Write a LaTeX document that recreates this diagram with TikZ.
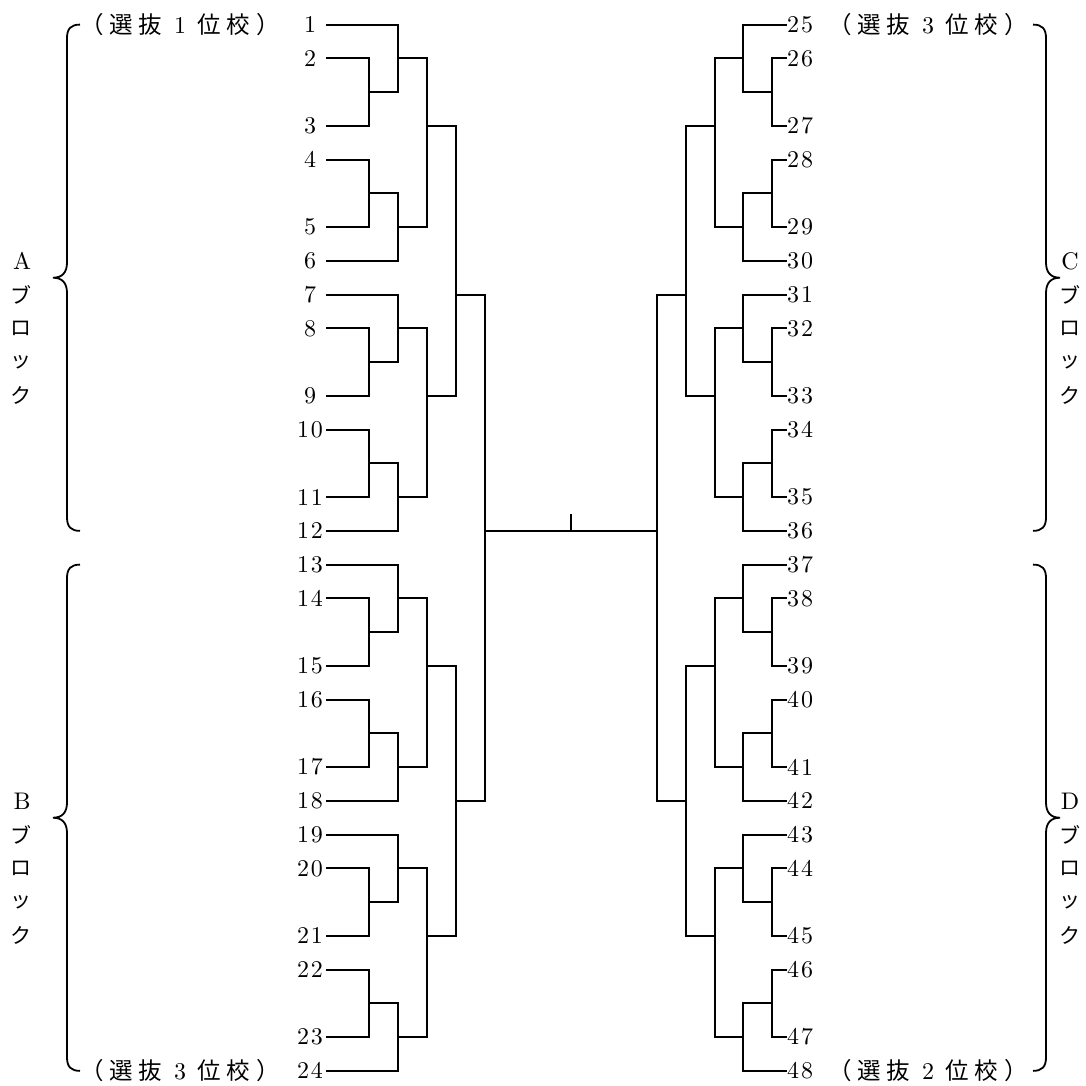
\documentclass[tikz,border=0pt]{standalone}
\usepackage{fontspec}
\setmainfont{lmroman10-regular}[Extension=.otf]
\newfontfamily\jp{Noto Sans CJK JP}
\usetikzlibrary{calc}
\newcommand\dd[2]{#1\kern2pt#2}
\newcommand\cb[1]{\makebox[29.3pt]{#1}}
\tikzset{
  ln/.style={line width=1.8pt, line join=miter},
  lnum/.style={inner sep=0pt, minimum width=32pt, font=\fontsize{24}{24}\selectfont},
  rnum/.style={inner sep=0pt, minimum width=26pt, font=\fontsize{24}{24}\selectfont},
  blk/.style={inner sep=0pt, font=\fontsize{24}{24}\selectfont},
  kana/.style={inner sep=0pt, font=\jp\fontsize{21}{21}\selectfont},
  sel/.style={inner sep=0pt, font=\jp\fontsize{23.5}{23.5}\selectfont}
}
\begin{document}
\begin{tikzpicture}[x=1pt,y=-1pt]
\useasboundingbox (0,0) rectangle (1086,1085);
\begin{scope}[y=-33.75pt,yshift=-24.6pt]
% ---------- team numbers ----------
\foreach \n/\u/\lab in {1/0/1,2/1/2,3/3/3,4/4/4,5/6/5,6/7/6,7/8/7,8/9/8,9/11/9,
  10/12/\dd10,11/14/\dd11,12/15/\dd12,13/16/\dd13,14/17/\dd14,15/19/\dd15,16/20/\dd16,
  17/22/\dd17,18/23/\dd18,19/24/\dd19,20/25/\dd20,21/27/\dd21,22/28/\dd22,23/30/\dd23,24/31/\dd24}
  \node[lnum] (t\n) at (310,\u) {\lab};
\foreach \n/\u/\lab in {25/0/\dd25,26/1/\dd26,27/3/\dd27,28/4/\dd28,29/6/\dd29,30/7/\dd30,
  31/8/\dd31,32/9/\dd32,33/11/\dd33,34/12/\dd34,35/14/\dd35,36/15/\dd36,
  37/16/\dd37,38/17/\dd38,39/19/\dd39,40/20/\dd40,41/22/\dd41,42/23/\dd42,
  43/24/\dd43,44/25/\dd44,45/27/\dd45,46/28/\dd46,47/30/\dd47,48/31/\dd48}
  \node[rnum] (t\n) at (800,\u) {\lab};
% ---------- A block ----------
\coordinate (a1) at (369,2);  \draw[ln] (t2.east) -| (a1) |- (t3.east);
\coordinate (a2) at (398,1);  \draw[ln] (t1.east) -| (a2) |- (a1);
\coordinate (a3) at (369,5);  \draw[ln] (t4.east) -| (a3) |- (t5.east);
\coordinate (a4) at (398,6);  \draw[ln] (a3) -| (a4) |- (t6.east);
\coordinate (a5) at (427,3);  \draw[ln] (a2) -| (a5) |- (a4);
\coordinate (a6) at (369,10); \draw[ln] (t8.east) -| (a6) |- (t9.east);
\coordinate (a7) at (398,9);  \draw[ln] (t7.east) -| (a7) |- (a6);
\coordinate (a8) at (369,13); \draw[ln] (t10.east) -| (a8) |- (t11.east);
\coordinate (a9) at (398,14); \draw[ln] (a8) -| (a9) |- (t12.east);
\coordinate (a10) at (427,11); \draw[ln] (a7) -| (a10) |- (a9);
\coordinate (a11) at (456,8); \draw[ln] (a5) -| (a11) |- (a10);
% ---------- B block ----------
\coordinate (b1) at (369,18); \draw[ln] (t14.east) -| (b1) |- (t15.east);
\coordinate (b2) at (398,17); \draw[ln] (t13.east) -| (b2) |- (b1);
\coordinate (b3) at (369,21); \draw[ln] (t16.east) -| (b3) |- (t17.east);
\coordinate (b4) at (398,22); \draw[ln] (b3) -| (b4) |- (t18.east);
\coordinate (b5) at (427,19); \draw[ln] (b2) -| (b5) |- (b4);
\coordinate (b6) at (369,26); \draw[ln] (t20.east) -| (b6) |- (t21.east);
\coordinate (b7) at (398,25); \draw[ln] (t19.east) -| (b7) |- (b6);
\coordinate (b8) at (369,29); \draw[ln] (t22.east) -| (b8) |- (t23.east);
\coordinate (b9) at (398,30); \draw[ln] (b8) -| (b9) |- (t24.east);
\coordinate (b10) at (427,27); \draw[ln] (b7) -| (b10) |- (b9);
\coordinate (b11) at (456,23); \draw[ln] (b5) -| (b11) |- (b10);
\coordinate (LL) at (485,15); \draw[ln] (a11) -| (LL) |- (b11);
% ---------- C block ----------
\coordinate (c1) at (772,2);  \draw[ln] (t26.west) -| (c1) |- (t27.west);
\coordinate (c2) at (743,1);  \draw[ln] (t25.west) -| (c2) |- (c1);
\coordinate (c3) at (772,5);  \draw[ln] (t28.west) -| (c3) |- (t29.west);
\coordinate (c4) at (743,6);  \draw[ln] (c3) -| (c4) |- (t30.west);
\coordinate (c5) at (715,3);  \draw[ln] (c2) -| (c5) |- (c4);
\coordinate (c6) at (772,10); \draw[ln] (t32.west) -| (c6) |- (t33.west);
\coordinate (c7) at (743,9);  \draw[ln] (t31.west) -| (c7) |- (c6);
\coordinate (c8) at (772,13); \draw[ln] (t34.west) -| (c8) |- (t35.west);
\coordinate (c9) at (743,14); \draw[ln] (c8) -| (c9) |- (t36.west);
\coordinate (c10) at (715,11); \draw[ln] (c7) -| (c10) |- (c9);
\coordinate (c11) at (686,8); \draw[ln] (c5) -| (c11) |- (c10);
% ---------- D block ----------
\coordinate (d1) at (772,18); \draw[ln] (t38.west) -| (d1) |- (t39.west);
\coordinate (d2) at (743,17); \draw[ln] (t37.west) -| (d2) |- (d1);
\coordinate (d3) at (772,21); \draw[ln] (t40.west) -| (d3) |- (t41.west);
\coordinate (d4) at (743,22); \draw[ln] (d3) -| (d4) |- (t42.west);
\coordinate (d5) at (715,19); \draw[ln] (d2) -| (d5) |- (d4);
\coordinate (d6) at (772,26); \draw[ln] (t44.west) -| (d6) |- (t45.west);
\coordinate (d7) at (743,25); \draw[ln] (t43.west) -| (d7) |- (d6);
\coordinate (d8) at (772,29); \draw[ln] (t46.west) -| (d8) |- (t47.west);
\coordinate (d9) at (743,30); \draw[ln] (d8) -| (d9) |- (t48.west);
\coordinate (d10) at (715,27); \draw[ln] (d7) -| (d10) |- (d9);
\coordinate (d11) at (686,23); \draw[ln] (d5) -| (d11) |- (d10);
\coordinate (RR) at (657,15); \draw[ln] (c11) -| (RR) |- (d11);
% ---------- final ----------
\draw[ln] (LL) -- (RR);
\coordinate (mid) at ($(LL)!0.5!(RR)$);
\coordinate (tick) at ($(mid)+(0,-0.5)$);
\draw[ln] (mid) -- (tick);
% ---------- braces ----------
\draw[ln] (80,0) .. controls (71,0) and (67,0.12) .. (67,0.4) -- (67,7.05)
  .. controls (67,7.35) and (62,7.5) .. (53,7.5) .. controls (62,7.5) and (67,7.65) .. (67,7.95)
  -- (67,14.6) .. controls (67,14.88) and (71,15) .. (80,15);
\draw[ln] (80,16) .. controls (71,16) and (67,16.12) .. (67,16.4) -- (67,23.05)
  .. controls (67,23.35) and (62,23.5) .. (53,23.5) .. controls (62,23.5) and (67,23.65) .. (67,23.95)
  -- (67,30.6) .. controls (67,30.88) and (71,31) .. (80,31);
\draw[ln] (1033,0) .. controls (1042,0) and (1046,0.12) .. (1046,0.4) -- (1046,7.05)
  .. controls (1046,7.35) and (1051,7.5) .. (1060,7.5) .. controls (1051,7.5) and (1046,7.65) .. (1046,7.95)
  -- (1046,14.6) .. controls (1046,14.88) and (1042,15) .. (1033,15);
\draw[ln] (1033,16) .. controls (1042,16) and (1046,16.12) .. (1046,16.4) -- (1046,23.05)
  .. controls (1046,23.35) and (1051,23.5) .. (1060,23.5) .. controls (1051,23.5) and (1046,23.65) .. (1046,23.95)
  -- (1046,30.6) .. controls (1046,30.88) and (1042,31) .. (1033,31);
% ---------- block labels ----------
\node[blk] (la) at (22,7) {A};
\node[blk] (lb) at (22,23) {B};
\node[blk] (lc) at (1070,7) {C};
\node[blk] (ld) at (1070,23) {D};
\foreach \p/\x/\u in {a/21/8,b/21/24,c/1070/8,d/1070/24}{
  \node[kana] (\p k1) at (\x,\u) {ブ};
  \node[kana] (\p k2) at (\x,\u+1) {ロ};
  \node[kana] (\p k3) at (\x,\u+2) {ッ};
  \node[kana] (\p k4) at (\x,\u+3) {ク};
}
% ---------- seed labels ----------
\node[sel] (s1) at (180,0)  {\cb{（}\cb{選}\cb{抜}\cb{\normalfont\fontsize{24}{24}\selectfont 1}\cb{位}\cb{校}\cb{）}};
\node[sel] (s2) at (928,0)  {\cb{（}\cb{選}\cb{抜}\cb{\normalfont\fontsize{24}{24}\selectfont 3}\cb{位}\cb{校}\cb{）}};
\node[sel] (s3) at (180,31) {\cb{（}\cb{選}\cb{抜}\cb{\normalfont\fontsize{24}{24}\selectfont 3}\cb{位}\cb{校}\cb{）}};
\node[sel] (s4) at (928,31) {\cb{（}\cb{選}\cb{抜}\cb{\normalfont\fontsize{24}{24}\selectfont 2}\cb{位}\cb{校}\cb{）}};
\end{scope}
\end{tikzpicture}
\end{document}
